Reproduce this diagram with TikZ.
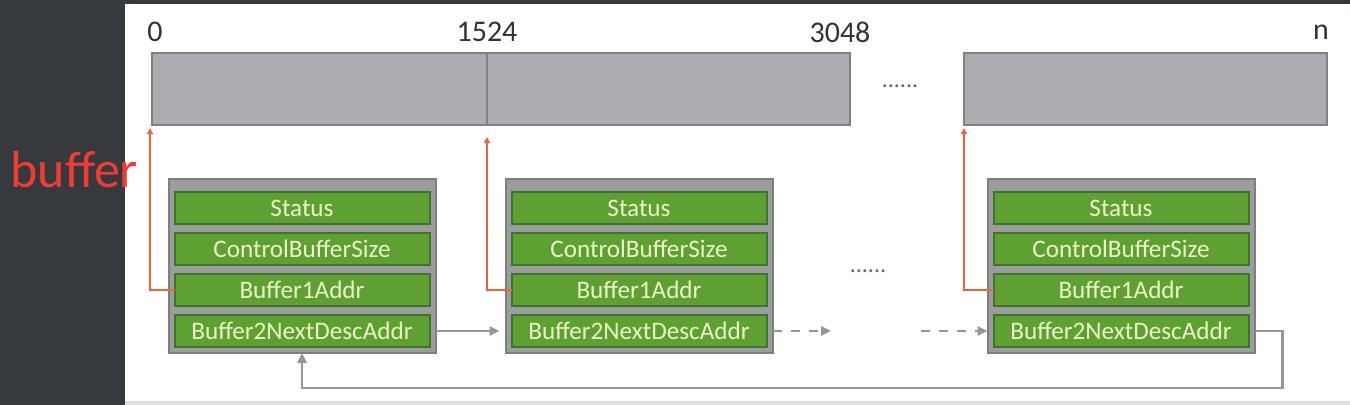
\documentclass[tikz,border=0pt]{standalone}
\usepackage{fontspec}
\setmainfont{Carlito}
\usepackage{tikz}
\usetikzlibrary{arrows.meta}
\usetikzlibrary{calc}
\usetikzlibrary{positioning}
\definecolor{panel}{RGB}{54,57,62}
\definecolor{bufgray}{RGB}{173,172,176}
\definecolor{bufedge}{RGB}{128,128,132}
\definecolor{descgray}{RGB}{156,156,158}
\definecolor{descedge}{RGB}{126,126,128}
\definecolor{fieldgreen}{RGB}{94,160,50}
\definecolor{fieldedge}{RGB}{60,118,40}
\definecolor{fieldtext}{RGB}{236,246,200}
\definecolor{ptrred}{RGB}{242,96,56}
\definecolor{linkgray}{RGB}{150,150,152}
\definecolor{labelred}{RGB}{240,60,50}
\tikzset{basic box/.style={draw,rectangle,inner sep=0pt,outer sep=0pt,line width=1pt}}
\tikzset{buf box/.style={basic box,draw=bufedge,fill=bufgray,minimum height=36pt}}
\tikzset{desc box/.style={basic box,draw=descedge,fill=descgray,
                          minimum width=133.5pt,minimum height=87pt}}
\tikzset{field/.style={basic box,
                       draw=fieldedge,
                       fill=fieldgreen,
                       text=fieldtext,
                       minimum width=127.5pt,
                       minimum height=16pt,
                       font=\fontsize{12.6}{12.6}\selectfont}}
\tikzset{link/.style={draw=linkgray,line width=1.3pt,-{Triangle[length=5pt,width=4.5pt]}}}
\tikzset{ptr/.style={draw=ptrred,line width=0.9pt,-{Triangle[length=3pt,width=3pt]}}}

\begin{document}
\begin{tikzpicture}
      [
      x=0.5pt,y=-0.5pt,
      tick/.style={font=\fontsize{15}{15}\selectfont,text=black!80},
      dots/.style={font=\fontsize{12}{12}\selectfont,text=black!60},
      ]

      % background
      \fill[panel] (0,0) rectangle (1350,405);
      \fill[white] (125,4) rectangle (1350,401);
      \fill[black!12] (125,401) rectangle (1350,405);
      \path[use as bounding box] (0,0) rectangle (1350,405);

      % buffers
      \node[buf box,minimum width=167.5pt] (buf1) at (319.5,89) {};
      \node[buf box,minimum width=181.5pt,right=0pt of buf1] (buf2) {};
      \node[buf box,minimum width=181.5pt] (bufn) at (1145.5,89) {};

      \node[tick] (t0) at (155,32) {0};
      \node[tick] (t1) at (487,32) {1524};
      \node[tick] (t2) at (840,32) {3048};
      \node[tick] (tn) at (1321,32) {n};
      \node[dots] (gapA) at (900,86) {......};

      \node[text=labelred,font=\fontsize{26}{26}\selectfont,inner sep=0pt,anchor=west]
      (lbl) at (10,170) {buffer};

      % descriptors
      \foreach \i/\x in {1/302,2/639,3/1121}
      {
      \node[desc box] (desc\i) at (\x,266) {};
      \foreach \k/\t in {1/Status,2/ControlBufferSize,3/Buffer1Addr,4/Buffer2NextDescAddr}
      \node[field] (d\i-\k) at (\x,{167+41*\k}) {\t};
      }
      \node[dots] (gapB) at (868,271) {......};

      % pointers
      \draw[ptr] (d1-3.west) -| ([xshift=-1pt,yshift=-1.5pt]buf1.south west);
      \draw[ptr] (d2-3.west) -| ([yshift=-6pt]buf2.south west);
      \draw[ptr] (d3-3.west) -| ([yshift=-1.5pt]bufn.south west);

      % chain
      \coordinate (gapR) at (831,331);
      \coordinate (gapL) at (921,331);
      \draw[link,shorten >=3pt] (desc1.east |- d1-4) -- (desc2.west |- d2-4);
      \draw[link,dash pattern=on 4.5pt off 4.5pt] (desc2.east |- d2-4) -- (gapR);
      \draw[link,dash pattern=on 4.5pt off 4.5pt] (gapL) -- (desc3.west |- d3-4);
      \draw[link] (desc3.east |- d3-4) -- ++(28,0) |- ($(desc1.south)+(0,35)$)
      -- (desc1.south);

    \end{tikzpicture}
\end{document}
